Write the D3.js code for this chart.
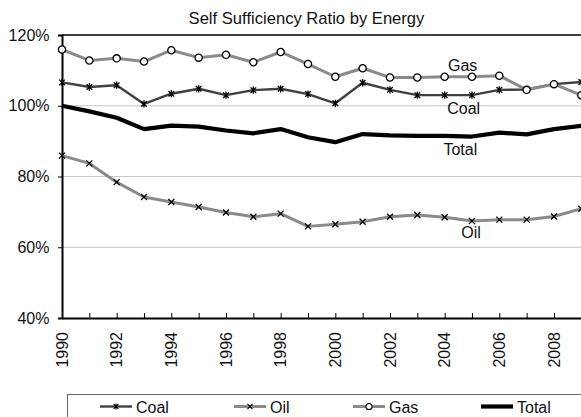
<!DOCTYPE html>
<html><head><meta charset="utf-8">
<script src="https://cdn.jsdelivr.net/npm/d3@7"></script>
<style>
html,body{margin:0;padding:0;background:#fff;overflow:hidden;}
svg{display:block;font-family:"Liberation Sans",Arial,sans-serif;}
</style></head>
<body>
<svg id="c" width="581" height="417"></svg>
<script>
const years = [1990,1991,1992,1993,1994,1995,1996,1997,1998,1999,2000,2001,2002,2003,2004,2005,2006,2007,2008,2009];
const coal  = [106.6,105.3,105.8,100.5,103.4,104.8,103.0,104.4,104.8,103.3,100.7,106.5,104.5,103.0,103.0,103.0,104.5,104.6,106.1,106.7];
const oil   = [85.9,83.7,78.4,74.2,72.8,71.4,69.8,68.6,69.5,65.9,66.5,67.2,68.6,69.1,68.5,67.4,67.8,67.8,68.7,70.9];
const gas   = [115.9,112.8,113.4,112.5,115.7,113.6,114.4,112.3,115.2,111.8,108.2,110.6,108.0,108.0,108.2,108.2,108.5,104.5,106.1,103.0];
const total = [100.0,98.4,96.6,93.4,94.4,94.1,93.0,92.2,93.4,91.1,89.7,92.0,91.6,91.5,91.5,91.3,92.4,91.9,93.4,94.3];
const yTicks = [40,60,80,100,120];
const xLabelYears = [1990,1992,1994,1996,1998,2000,2002,2004,2006,2008];
const seriesNames = ["Coal","Oil","Gas","Total"];
const title = "Self Sufficiency Ratio by Energy";

const FS = 16;
const svg = d3.select("#c");
const L = 62, R = 581.3, T = 35, B = 318;
const x = d3.scaleLinear().domain([1990,2009]).range([L,R]);
const y = d3.scaleLinear().domain([40,120]).range([B,T]);

function htext(g, px, py, str, anchor, size){
  return g.append("text").attr("x",px).attr("y",py).attr("text-anchor",anchor||"start").attr("dy","0.35em")
    .attr("font-size",size||FS).attr("fill","#111").text(str);
}

// title
htext(svg, 306.5, 18, title, "middle", 16.6);

// gridlines
svg.append("g").selectAll("line").data(yTicks.filter(d=>d>40 && d<120)).join("line")
  .attr("x1",L).attr("x2",R).attr("y1",d=>y(d)).attr("y2",d=>y(d))
  .attr("stroke","#c8c8c8").attr("stroke-width",1);

// top border
svg.append("line").attr("x1",L).attr("x2",581).attr("y1",y(120)).attr("y2",y(120))
  .attr("stroke","#000").attr("stroke-width",1.5);

// y axis
const yAxis = d3.axisLeft(y).tickValues(yTicks).tickSize(4).tickFormat("");
const ya = svg.append("g").attr("transform",`translate(${L},0)`).call(yAxis);
ya.select(".domain").attr("stroke","#000").attr("stroke-width",2);
ya.selectAll(".tick line").attr("stroke","#000").attr("stroke-width",1);
yTicks.forEach(t => htext(svg, 49.5, y(t), t + "%", "end", FS));

// x axis
const xAxis = d3.axisBottom(x).tickValues(years).tickSize(-5).tickFormat("").tickSizeOuter(0);
const xa = svg.append("g").attr("transform",`translate(0,${B})`).call(xAxis);
xa.select(".domain").attr("stroke","#000").attr("stroke-width",2);
xa.selectAll(".tick line").attr("stroke","#000").attr("stroke-width",1);
xa.selectAll(".tick").filter(d=>d===1990).remove();
svg.append("g").selectAll("text").data(xLabelYears).join("text")
  .attr("transform",d=>`translate(${x(d)},332) rotate(-90)`)
  .attr("text-anchor","end").attr("dy","0.35em").attr("font-size",FS).attr("fill","#111").text(d=>d);

// markers
function starMarker(g, s){
  g.append("path").attr("d",`M${-s},${-s}L${s},${s}M${-s},${s}L${s},${-s}M0,${-s*1.3}L0,${s*1.3}`)
   .attr("stroke","#000").attr("stroke-width",1.3).attr("fill","none");
}
function crossMarker(g, s){
  g.append("path").attr("d",`M${-s},${-s}L${s},${s}M${-s},${s}L${s},${-s}`)
   .attr("stroke","#000").attr("stroke-width",1.3).attr("fill","none");
}
function circleMarker(g, r){
  g.append("circle").attr("r",r).attr("fill","#fff").attr("stroke","#000").attr("stroke-width",1.3);
}

const line = d3.line().x((d,i)=>x(years[i])).y(d=>y(d));
const series = [
  {name:seriesNames[0], data:coal,  color:"#404040", w:2.4, marker:g=>starMarker(g,2.8)},
  {name:seriesNames[1], data:oil,   color:"#8a8a8a", w:3,   marker:g=>crossMarker(g,3.0)},
  {name:seriesNames[2], data:gas,   color:"#8a8a8a", w:3,   marker:g=>circleMarker(g,3.6)},
  {name:seriesNames[3], data:total, color:"#000",    w:4.2, marker:null}
];
series.forEach(s=>{
  svg.append("path").datum(s.data).attr("d",line).attr("fill","none")
    .attr("stroke",s.color).attr("stroke-width",s.w).attr("stroke-linejoin","round");
  if (s.marker){
    s.data.forEach((v,i)=>{
      const g = svg.append("g").attr("transform",`translate(${x(years[i])},${y(v)})`);
      s.marker(g);
    });
  }
});

// in-plot labels
htext(svg, 462.7, 65.7, "Gas", "middle", FS);
htext(svg, 463.7, 108.3, "Coal", "middle", FS);
htext(svg, 460.3, 149, "Total", "middle", FS);
htext(svg, 471, 232, "Oil", "middle", FS);

// legend
svg.append("rect").attr("x",67.5).attr("y",394.5).attr("width",600).attr("height",60)
  .attr("fill","#fff").attr("stroke","#666").attr("stroke-width",1);
const legX = [100,234,353,481];
const ly = 406.5;
series.forEach((s,i)=>{
  const g = svg.append("g");
  g.append("line").attr("x1",legX[i]).attr("x2",legX[i]+32).attr("y1",ly).attr("y2",ly)
    .attr("stroke",s.color).attr("stroke-width",s.w);
  if (s.marker){
    const mg = g.append("g").attr("transform",`translate(${legX[i]+16},${ly}) scale(0.85)`);
    s.marker(mg);
  }
  htext(g, legX[i]+36, ly+0.5, s.name, "start", FS);
});
</script>
</body></html>
